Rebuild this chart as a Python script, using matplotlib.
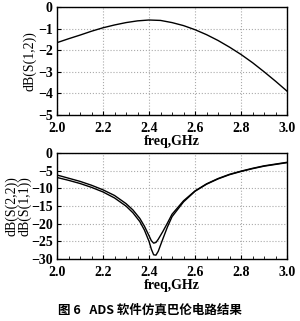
import matplotlib.pyplot as plt

plt.rcParams['font.family'] = ['Liberation Serif', 'DejaVu Serif']

# dB(S(1,2))
freq_top = [2.0, 2.05, 2.1, 2.15, 2.2, 2.25, 2.3, 2.35, 2.4, 2.45, 2.5, 2.55, 2.6,
            2.65, 2.7, 2.75, 2.8, 2.85, 2.9, 2.95, 3.0]
s12 = [-1.65, -1.47, -1.3, -1.12, -0.96, -0.83, -0.72, -0.64, -0.6, -0.62, -0.72,
       -0.86, -1.05, -1.28, -1.55, -1.86, -2.2, -2.58, -3.0, -3.44, -3.9]

# dB(S(1,1)) and dB(S(2,2))
freq_bot = [2.0, 2.05, 2.1, 2.15, 2.2, 2.25, 2.3, 2.33, 2.36, 2.38, 2.4, 2.41, 2.42,
            2.43, 2.44, 2.46, 2.48, 2.5, 2.55, 2.6, 2.65, 2.7, 2.75, 2.8, 2.85,
            2.9, 2.95, 3.0]
s11 = [-6.9, -7.7, -8.6, -9.7, -11.0, -12.7, -15.0, -16.9, -19.4, -21.8, -25.0,
       -27.2, -28.8, -28.9, -27.8, -24.3, -20.9, -18.0, -13.8, -10.8, -8.8, -7.3,
       -6.1, -5.2, -4.4, -3.7, -3.2, -2.7]
s22 = [-6.2, -7.1, -8.0, -9.1, -10.4, -12.0, -14.3, -16.1, -18.5, -20.7, -23.4,
       -24.8, -25.5, -25.3, -24.4, -22.2, -19.8, -17.3, -13.5, -10.7, -8.7, -7.2,
       -6.0, -5.1, -4.3, -3.6, -3.1, -2.6]

fig = plt.figure(figsize=(3.0, 3.21), dpi=100)
ax1 = fig.add_axes([0.19, 0.642, 0.767, 0.336])
ax2 = fig.add_axes([0.19, 0.193, 0.767, 0.330])


def style(ax):
    ax.set_xlim(2.0, 3.0)
    ax.set_xticks([2.0, 2.2, 2.4, 2.6, 2.8, 3.0])
    ax.set_xticks([2.0 + 0.05 * i for i in range(21)], minor=True)
    ax.grid(True, color='#aaaaaa', linestyle=':', linewidth=0.8)
    ax.tick_params(labelsize=10, direction='in', length=3)
    ax.tick_params(axis='x', pad=5)
    ax.tick_params(axis='y', pad=3)
    ax.tick_params(which='minor', direction='in', length=2)
    for lab in ax.get_xticklabels() + ax.get_yticklabels():
        lab.set_fontweight('bold')
    ax.set_xlabel('freq,GHz', fontsize=10, fontweight='bold', labelpad=0)
    for sp in ax.spines.values():
        sp.set_linewidth(1.0)


ax1.plot(freq_top, s12, color='black', linewidth=1.0)
ax1.set_ylim(-5, 0)
ax1.set_yticks([0, -1, -2, -3, -4, -5])
ax1.set_ylabel('dB(S(1,2))', fontsize=10, labelpad=1)
style(ax1)

ax2.plot(freq_bot, s11, color='black', linewidth=1.0)
ax2.plot(freq_bot, s22, color='black', linewidth=1.0)
ax2.set_ylim(-30, 0)
ax2.set_yticks([0, -5, -10, -15, -20, -25, -30])
ax2.set_ylabel('dB(S(2,2))\ndB(S(1,1))', fontsize=10, labelpad=0, linespacing=0.9)
style(ax2)

fig.text(0.5, 0.035, '图 6   ADS 软件仿真巴伦电路结果', ha='center', va='center',
         fontsize=9, fontweight='bold', family=['Noto Sans CJK SC', 'DejaVu Sans'])

fig.savefig('out.png', dpi=100)
